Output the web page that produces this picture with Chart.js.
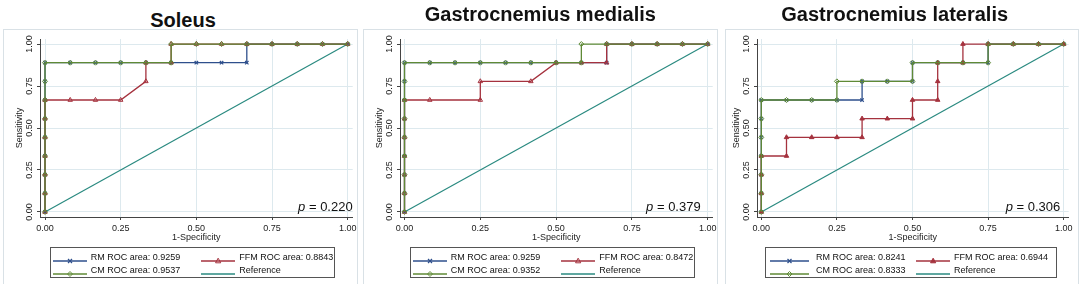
<!DOCTYPE html>
<html>
<head>
<meta charset="utf-8">
<script src="https://cdn.jsdelivr.net/npm/chart.js@4.4.1/dist/chart.umd.min.js"></script>
<style>
  body { margin: 0; background: #fff; width: 1084px; height: 284px; overflow: hidden; position: relative;
         font-family: "Liberation Sans", Arial, sans-serif; color: #111; }
  .panel { position: absolute; top: 0; width: 362px; height: 284px; }
  .panel canvas { position: absolute; left: 0; top: 0; }
  .frame { position: absolute; top: 29px; height: 270px; border: 1px solid #d9e1e6; box-sizing: border-box; }
  .title { position: absolute; font-weight: bold; font-size: 20px; line-height: 20px; white-space: nowrap; transform: translateX(-50%); }
  .pval { position: absolute; top: 199.5px; font-size: 13px; line-height: 13px; white-space: nowrap; transform: translateX(-100%); }
  .legend { position: absolute; top: 247px; height: 31px; border: 1px solid #555; box-sizing: border-box; }
  .item { position: absolute; font-size: 9px; line-height: 10px; white-space: nowrap; }
  .sample { position: absolute; }
</style>
</head>
<body>
<script>
// axis ticks
const tickValues = [0, 0.25, 0.5, 0.75, 1];

// titles, p values, ROC areas
const panelTitles = ["Soleus", "Gastrocnemius medialis", "Gastrocnemius lateralis"];
const pValues = ["0.220", "0.379", "0.306"];
const rmAreas = ["0.9259", "0.9259", "0.8241"];
const ffmAreas = ["0.8843", "0.8472", "0.6944"];
const cmAreas = ["0.9537", "0.9352", "0.8333"];

// reference diagonal
const refFpr = [0, 1];
const refTpr = [0, 1];

// Soleus
const soleusRmFpr = [0, 0, 0, 0, 0, 0, 0, 0, 0, 0.0833, 0.1667, 0.25, 0.3333, 0.4167, 0.5, 0.5833, 0.6667, 0.6667, 0.75, 0.8333, 0.9167, 1];
const soleusRmTpr = [0, 0.1111, 0.2222, 0.3333, 0.4444, 0.5556, 0.6667, 0.7778, 0.8889, 0.8889, 0.8889, 0.8889, 0.8889, 0.8889, 0.8889, 0.8889, 0.8889, 1, 1, 1, 1, 1];
const soleusFfmFpr = [0, 0, 0, 0, 0, 0, 0, 0.0833, 0.1667, 0.25, 0.3333, 0.3333, 0.4167, 0.4167, 0.5, 0.5833, 0.6667, 0.75, 0.8333, 0.9167, 1];
const soleusFfmTpr = [0, 0.1111, 0.2222, 0.3333, 0.4444, 0.5556, 0.6667, 0.6667, 0.6667, 0.6667, 0.7778, 0.8889, 0.8889, 1, 1, 1, 1, 1, 1, 1, 1];
const soleusCmFpr = [0, 0, 0, 0, 0, 0, 0, 0, 0, 0.0833, 0.1667, 0.25, 0.3333, 0.4167, 0.4167, 0.5, 0.5833, 0.6667, 0.75, 0.8333, 0.9167, 1];
const soleusCmTpr = [0, 0.1111, 0.2222, 0.3333, 0.4444, 0.5556, 0.6667, 0.7778, 0.8889, 0.8889, 0.8889, 0.8889, 0.8889, 0.8889, 1, 1, 1, 1, 1, 1, 1, 1];

// Gastrocnemius medialis
const gmRmFpr = [0, 0, 0, 0, 0, 0, 0, 0, 0, 0.0833, 0.1667, 0.25, 0.3333, 0.4167, 0.5, 0.5833, 0.6667, 0.6667, 0.75, 0.8333, 0.9167, 1];
const gmRmTpr = [0, 0.1111, 0.2222, 0.3333, 0.4444, 0.5556, 0.6667, 0.7778, 0.8889, 0.8889, 0.8889, 0.8889, 0.8889, 0.8889, 0.8889, 0.8889, 0.8889, 1, 1, 1, 1, 1];
const gmFfmFpr = [0, 0, 0, 0, 0, 0, 0, 0.0833, 0.25, 0.25, 0.4167, 0.5, 0.5833, 0.6667, 0.6667, 0.75, 0.8333, 0.9167, 1];
const gmFfmTpr = [0, 0.1111, 0.2222, 0.3333, 0.4444, 0.5556, 0.6667, 0.6667, 0.6667, 0.7778, 0.7778, 0.8889, 0.8889, 0.8889, 1, 1, 1, 1, 1];
const gmCmFpr = [0, 0, 0, 0, 0, 0, 0, 0, 0, 0.0833, 0.1667, 0.25, 0.3333, 0.4167, 0.5, 0.5833, 0.5833, 0.6667, 0.75, 0.8333, 0.9167, 1];
const gmCmTpr = [0, 0.1111, 0.2222, 0.3333, 0.4444, 0.5556, 0.6667, 0.7778, 0.8889, 0.8889, 0.8889, 0.8889, 0.8889, 0.8889, 0.8889, 0.8889, 1, 1, 1, 1, 1, 1];

// Gastrocnemius lateralis
const glRmFpr = [0, 0, 0, 0, 0, 0, 0, 0.0833, 0.1667, 0.25, 0.3333, 0.3333, 0.4167, 0.5, 0.5, 0.5833, 0.6667, 0.75, 0.75, 0.8333, 0.9167, 1];
const glRmTpr = [0, 0.1111, 0.2222, 0.3333, 0.4444, 0.5556, 0.6667, 0.6667, 0.6667, 0.6667, 0.6667, 0.7778, 0.7778, 0.7778, 0.8889, 0.8889, 0.8889, 0.8889, 1, 1, 1, 1];
const glFfmFpr = [0, 0, 0, 0, 0.0833, 0.0833, 0.1667, 0.25, 0.3333, 0.3333, 0.4167, 0.5, 0.5, 0.5833, 0.5833, 0.5833, 0.6667, 0.6667, 0.75, 0.8333, 0.9167, 1];
const glFfmTpr = [0, 0.1111, 0.2222, 0.3333, 0.3333, 0.4444, 0.4444, 0.4444, 0.4444, 0.5556, 0.5556, 0.5556, 0.6667, 0.6667, 0.7778, 0.8889, 0.8889, 1, 1, 1, 1, 1];
const glCmFpr = [0, 0, 0, 0, 0, 0, 0, 0.0833, 0.1667, 0.25, 0.25, 0.3333, 0.4167, 0.5, 0.5, 0.5833, 0.6667, 0.75, 0.75, 0.8333, 0.9167, 1];
const glCmTpr = [0, 0.1111, 0.2222, 0.3333, 0.4444, 0.5556, 0.6667, 0.6667, 0.6667, 0.6667, 0.7778, 0.7778, 0.7778, 0.7778, 0.8889, 0.8889, 0.8889, 0.8889, 1, 1, 1, 1];

const curves = [
  { rm: [soleusRmFpr, soleusRmTpr], ffm: [soleusFfmFpr, soleusFfmTpr], cm: [soleusCmFpr, soleusCmTpr] },
  { rm: [gmRmFpr, gmRmTpr], ffm: [gmFfmFpr, gmFfmTpr], cm: [gmCmFpr, gmCmTpr] },
  { rm: [glRmFpr, glRmTpr], ffm: [glFfmFpr, glFfmTpr], cm: [glCmFpr, glCmTpr] },
];

const fontFamily = '"Liberation Sans", Arial, sans-serif';
const navy = "#2e4f8c", maroon = "#a5323e", green = "#5f8a36", teal = "#2a8a80";
const hollow = "rgba(255,255,255,0)";

// per panel placement (local px)
const layouts = [
  { left: 0, frameW: 355, axisLeft: 40, zeroX: 45, oneX: 347.7, titleX: 183, titleTop: 9.8, pRight: 352.7,
    legL: 50, legW: 285, c1Line: [53, 87], c1Text: 90.7, c2Line: [200.7, 235], c2Text: 239.3, ffmFilled: false },
  { left: 360, frameW: 355, axisLeft: 40, zeroX: 44.5, oneX: 347.7, titleX: 180.3, titleTop: 3.8, pRight: 340.7,
    legL: 50, legW: 285, c1Line: [53, 87], c1Text: 90.7, c2Line: [200.7, 235], c2Text: 239.3, ffmFilled: false },
  { left: 722, frameW: 354, axisLeft: 35, zeroX: 39.3, oneX: 341.7, titleX: 172.7, titleTop: 3.8, pRight: 338.3,
    legL: 43, legW: 292, c1Line: [47.7, 86.7], c1Text: 94, c2Line: [194, 228.3], c2Text: 232, ffmFilled: true },
];

function pts(fpr, tpr) {
  return fpr.map((x, i) => ({ x: x, y: tpr[i] }));
}

function sampleSvg(color, marker, fill, x1, x2) {
  const w = x2 - x1, c = w / 2, cy = 5;
  let m = "";
  if (marker === "x") {
    m = `<path d="M${c - 2} ${cy - 2}L${c + 2} ${cy + 2}M${c - 2} ${cy + 2}L${c + 2} ${cy - 2}" stroke="${color}" stroke-width="1.2"/>`;
  } else if (marker === "tri") {
    m = `<polygon points="${c},${cy - 2.8} ${c + 2.6},${cy + 1.8} ${c - 2.6},${cy + 1.8}" fill="${fill}" stroke="${color}" stroke-width="1"/>`;
  } else if (marker === "dia") {
    m = `<polygon points="${c},${cy - 2.5} ${c + 2.5},${cy} ${c},${cy + 2.5} ${c - 2.5},${cy}" fill="${fill}" stroke="${color}" stroke-width="1"/>`;
  }
  return `<svg width="${w}" height="10" viewBox="0 0 ${w} 10"><line x1="0" y1="${cy}" x2="${w}" y2="${cy}" stroke="${color}" stroke-width="1.3"/>${m}</svg>`;
}

function makePanel(i) {
  const L = layouts[i];
  const W = 362, H = 284;
  const unit = L.oneX - L.zeroX;
  const xMin = -(L.zeroX - L.axisLeft) / unit;
  const xMax = 1 + 5 / unit;
  const chartRight = L.oneX + 5;
  const xAxisH = 30;

  const panel = document.createElement("div");
  panel.className = "panel";
  panel.style.left = L.left + "px";
  document.body.appendChild(panel);

  const frame = document.createElement("div");
  frame.className = "frame";
  frame.style.left = "3px";
  frame.style.width = L.frameW + "px";
  panel.appendChild(frame);

  const title = document.createElement("div");
  title.className = "title";
  title.style.left = L.titleX + "px";
  title.style.top = L.titleTop + "px";
  title.textContent = panelTitles[i];
  panel.appendChild(title);

  const canvas = document.createElement("canvas");
  canvas.width = W;
  canvas.height = H;
  panel.appendChild(canvas);

  const pv = document.createElement("div");
  pv.className = "pval";
  pv.style.left = L.pRight + "px";
  pv.innerHTML = "<i>p</i> = " + pValues[i];
  panel.appendChild(pv);

  // legend box
  const leg = document.createElement("div");
  leg.className = "legend";
  leg.style.left = L.legL + "px";
  leg.style.width = L.legW + "px";
  panel.appendChild(leg);

  const ffmFill = L.ffmFilled ? maroon : hollow;
  const entries = [
    { text: "RM ROC area: " + rmAreas[i], color: navy, marker: "x", fill: navy, col: 0, row: 0 },
    { text: "FFM ROC area: " + ffmAreas[i], color: maroon, marker: "tri", fill: ffmFill, col: 1, row: 0 },
    { text: "CM ROC area: " + cmAreas[i], color: green, marker: "dia", fill: hollow, col: 0, row: 1 },
    { text: "Reference", color: teal, marker: "", fill: "", col: 1, row: 1 },
  ];
  const rowCenters = [257, 269.5];
  entries.forEach(e => {
    const line = e.col === 0 ? L.c1Line : L.c2Line;
    const s = document.createElement("div");
    s.className = "sample";
    s.style.left = line[0] + "px";
    s.style.top = (rowCenters[e.row] - 5) + "px";
    s.innerHTML = sampleSvg(e.color, e.marker, e.fill, line[0], line[1]);
    panel.appendChild(s);
    const t = document.createElement("div");
    t.className = "item";
    t.style.left = (e.col === 0 ? L.c1Text : L.c2Text) + "px";
    t.style.top = (rowCenters[e.row] - 4.9) + "px";
    t.textContent = e.text;
    panel.appendChild(t);
  });

  const c = curves[i];
  const setTicks = s => { s.ticks = tickValues.map(v => ({ value: v })); };
  const tickFont = { family: fontFamily, size: 9 };

  new Chart(canvas, {
    type: "line",
    data: {
      datasets: [
        { label: "CM", data: pts(c.cm[0], c.cm[1]), borderColor: green, borderWidth: 1.3,
          pointStyle: "rectRot", pointRadius: 2.5, pointBorderWidth: 1, pointBorderColor: green,
          pointBackgroundColor: hollow, tension: 0, fill: false, order: 0 },
        { label: "FFM", data: pts(c.ffm[0], c.ffm[1]), borderColor: maroon, borderWidth: 1.3,
          pointStyle: "triangle", pointRadius: 2.6, pointBorderWidth: 1, pointBorderColor: maroon,
          pointBackgroundColor: ffmFill, tension: 0, fill: false, order: 1 },
        { label: "RM", data: pts(c.rm[0], c.rm[1]), borderColor: navy, borderWidth: 1.3,
          pointStyle: "crossRot", pointRadius: 2.4, pointBorderWidth: 1.2, pointBorderColor: navy,
          tension: 0, fill: false, order: 2 },
        { label: "Reference", data: pts(refFpr, refTpr), borderColor: teal, borderWidth: 1.2,
          pointRadius: 0, tension: 0, fill: false, order: 3 },
      ],
    },
    options: {
      responsive: false,
      animation: false,
      devicePixelRatio: 1,
      layout: { padding: { top: 39, left: 0, right: W - chartRight, bottom: H - 217 - xAxisH } },
      plugins: { legend: { display: false }, title: { display: false }, tooltip: { enabled: false } },
      scales: {
        x: {
          type: "linear", min: xMin, max: xMax,
          afterBuildTicks: setTicks,
          afterFit: s => { s.height = xAxisH; },
          ticks: { callback: v => v.toFixed(2), font: tickFont, color: "#222", padding: 3,
                   maxRotation: 0, autoSkip: false },
          grid: { color: "#dde9ee", tickColor: "#444", tickLength: 3 },
          border: { display: true, color: "#444", width: 1 },
          title: { display: true, text: "1-Specificity", font: tickFont, color: "#222",
                   padding: { top: 0, bottom: 3.6 } },
        },
        y: {
          type: "linear", min: -0.03, max: 1.03,
          afterBuildTicks: setTicks,
          afterFit: s => { s.width = L.axisLeft; },
          ticks: { callback: v => v.toFixed(2), font: tickFont, color: "#222", padding: -1.4,
                   minRotation: 90, maxRotation: 90, crossAlign: "center", autoSkip: false },
          grid: { color: "#dde9ee", tickColor: "#444", tickLength: 3 },
          border: { display: true, color: "#444", width: 1 },
          title: { display: true, text: "Sensitivity", font: tickFont, color: "#222",
                   padding: { top: L.axisLeft - 20.8 - 5.4, bottom: 0 } },
        },
      },
    },
  });
}

for (let i = 0; i < 3; i++) makePanel(i);
</script>
</body>
</html>
